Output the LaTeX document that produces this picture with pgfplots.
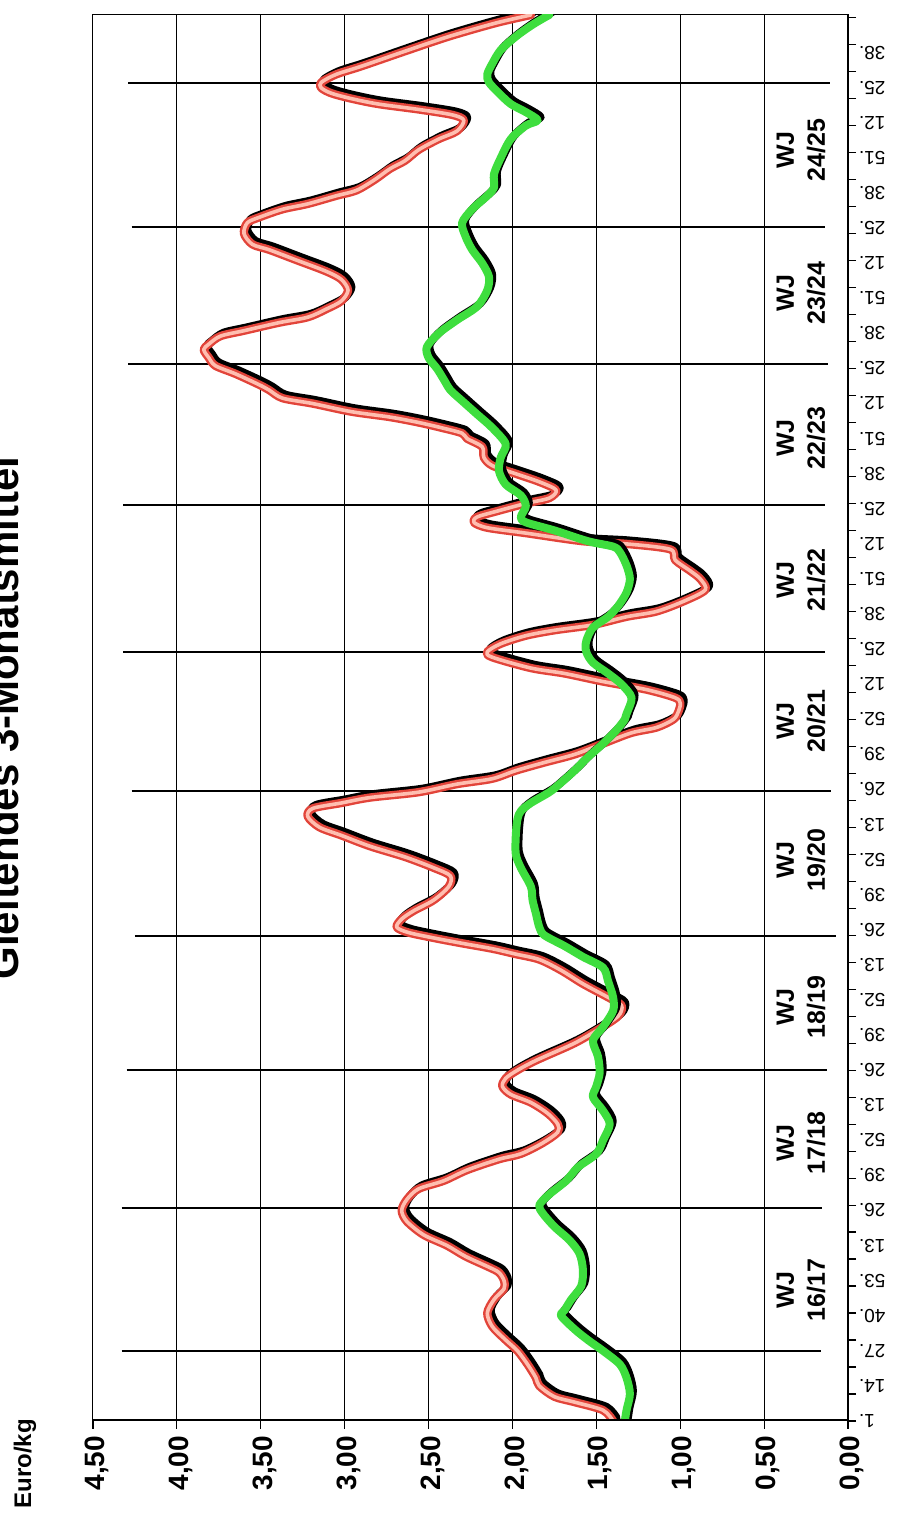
\documentclass[border=0pt]{standalone}
\usepackage{fontspec}
\setmainfont{Liberation Sans}
\usepackage{pgfplots}
\usepackage{pgfplotstable}
\pgfplotsset{compat=1.18}
\definecolor{redb}{RGB}{226,68,58}
\definecolor{pinkf}{RGB}{255,190,176}
\definecolor{grn}{RGB}{62,222,62}

\pgfplotstableread{
t v
1 1.40
5 1.46
8 1.63
10 1.75
14 1.84
17 1.86
22 1.91
27 1.97
31 2.04
36 2.12
41 2.15
46 2.11
50 2.05
53 2.05
56 2.08
58 2.14
62 2.28
66 2.39
70 2.53
75 2.63
79 2.66
83 2.63
87 2.56
90 2.41
94 2.27
98 2.08
100 1.95
104 1.82
108 1.73
111 1.73
115 1.79
119 1.89
122 2.01
125 2.06
128 2.04
131 1.97
134 1.88
136 1.81
141 1.63
146 1.49
151 1.37
155 1.35
158 1.43
163 1.58
168 1.71
172 1.84
174 1.98
176 2.12
178 2.30
180 2.47
182 2.62
184 2.69
187 2.66
190 2.59
194 2.47
199 2.38
203 2.37
206 2.47
210 2.64
214 2.85
218 3.02
221 3.15
225 3.22
228 3.19
230 3.02
232 2.85
234 2.56
237 2.33
239 2.12
242 1.98
245 1.81
248 1.63
252 1.46
256 1.29
258 1.14
261 1.04
264 1.01
267 1.00
269 1.03
272 1.20
275 1.46
278 1.69
280 1.89
284 2.12
286 2.15
289 2.07
292 1.92
294 1.75
296 1.52
299 1.32
301 1.14
305 0.97
309 0.85
313 0.88
316 0.94
320 1.03
324 1.06
326 1.32
327 1.58
330 1.92
332 2.15
334 2.23
336 2.21
338 2.10
341 1.92
343 1.78
346 1.74
349 1.84
352 1.98
355 2.12
358 2.17
362 2.18
365 2.27
367 2.30
369 2.42
371 2.56
373 2.73
375 2.96
378 3.19
380 3.37
383 3.45
385 3.51
389 3.65
392 3.77
395 3.81
398 3.84
400 3.81
403 3.74
405 3.60
408 3.39
410 3.22
413 3.11
416 3.02
420 2.98
424 3.02
427 3.11
431 3.28
435 3.45
437 3.55
441 3.60
445 3.58
447 3.51
450 3.37
452 3.22
455 3.05
457 2.93
461 2.82
465 2.73
468 2.64
472 2.56
476 2.44
479 2.33
483 2.29
485 2.36
487 2.56
489 2.80
491 2.96
493 3.08
495 3.14
497 3.14
500 3.05
503 2.90
509 2.62
514 2.38
519 2.10
522 1.89
}\redtab

\pgfplotstableread{
t v
1 1.33
5 1.32
11 1.30
17 1.32
22 1.36
27 1.46
31 1.55
35 1.63
40 1.71
42 1.69
46 1.65
51 1.59
57 1.58
63 1.60
68 1.66
73 1.75
78 1.82
81 1.84
85 1.78
90 1.68
95 1.61
100 1.50
105 1.46
111 1.42
116 1.46
121 1.52
125 1.50
130 1.48
136 1.49
142 1.52
147 1.46
153 1.40
158 1.40
164 1.43
169 1.46
173 1.58
177 1.69
181 1.81
184 1.84
189 1.86
194 1.88
199 1.89
206 1.95
211 1.98
218 1.98
224 1.97
227 1.95
230 1.89
234 1.78
237 1.72
242 1.63
247 1.55
252 1.46
257 1.38
261 1.33
263 1.32
269 1.29
274 1.35
278 1.43
282 1.52
286 1.56
290 1.56
295 1.52
299 1.43
303 1.37
308 1.32
313 1.30
318 1.32
323 1.36
325 1.40
327 1.55
331 1.75
334 1.92
336 1.95
340 1.92
344 1.95
348 2.04
353 2.08
358 2.07
363 2.04
369 2.12
374 2.21
379 2.30
383 2.37
387 2.41
391 2.45
395 2.50
399 2.51
404 2.44
409 2.33
414 2.21
420 2.15
425 2.14
430 2.18
435 2.24
440 2.28
445 2.30
450 2.24
455 2.15
458 2.11
463 2.11
469 2.07
476 2.01
481 1.92
483 1.85
486 1.92
489 2.01
493 2.08
497 2.14
500 2.15
504 2.12
509 2.07
514 1.98
518 1.89
521 1.81
522 1.78
}\grntab

\begin{document}
\begin{tikzpicture}
\path[use as bounding box] (0,0) rectangle (450.5pt,756.5pt);
\node[rotate=90, anchor=base, font=\bfseries\fontsize{21}{25}\selectfont] at (9pt,397.5pt) {Gleitendes 3-Monatsmittel};
\node[rotate=90, font=\bfseries\fontsize{12}{14}\selectfont] at (12.5pt,24.5pt) {Euro/kg};
\begin{axis}[
  at={(46.5pt,46pt)}, anchor=south west,
  width=377.5pt, height=703pt, scale only axis,
  xmin=0, xmax=4.5, ymin=1, ymax=522,
  x dir=reverse,
  axis line style={line width=0.5pt, black},
  xtick={0,0.5,1,1.5,2,2.5,3,3.5,4,4.5},
  xticklabels={{0,00},{0,50},{1,00},{1,50},{2,00},{2,50},{3,00},{3,50},{4,00},{4,50}},
  xtick pos=left,
  ytick pos=right,
  tick align=outside,
  major tick length=4pt,
  minor tick length=4pt,
  tick style={black, line width=0.6pt},
  major y tick style={draw=none},
  minor y tick style={black, line width=0.6pt},
  xmajorgrids,
  grid style={line width=0.5pt, black},
  xticklabel style={rotate=90, anchor=east, yshift=-2pt, font=\bfseries\fontsize{14}{16}\selectfont},
  ytick={1,14,...,508},
  minor ytick={1,11,...,521},
  yticklabels={1.,14.,27.,40.,53.,13.,26.,39.,52.,13.,26.,39.,52.,13.,26.,39.,52.,13.,26.,39.,52.,12.,25.,38.,51.,12.,25.,38.,51.,12.,25.,38.,51.,12.,25.,38.,51.,12.,25.,38.},
  yticklabel pos=right,
  yticklabel style={rotate=180, anchor=east, xshift=2pt, font=\fontsize{9.5}{11}\selectfont},
]
% WJ separator lines
\draw[line width=0.85pt] (axis cs:4.33,26.9) -- (axis cs:0.16,26.9);
\draw[line width=0.85pt] (axis cs:4.33,79.8) -- (axis cs:0.155,79.8);
\draw[line width=0.85pt] (axis cs:4.30,131.0) -- (axis cs:0.125,131.0);
\draw[line width=0.85pt] (axis cs:4.25,180.8) -- (axis cs:0.07,180.8);
\draw[line width=0.85pt] (axis cs:4.27,234.4) -- (axis cs:0.10,234.4);
\draw[line width=0.85pt] (axis cs:4.32,286.0) -- (axis cs:0.14,286.0);
\draw[line width=0.85pt] (axis cs:4.32,340.4) -- (axis cs:0.14,340.4);
\draw[line width=0.85pt] (axis cs:4.29,392.6) -- (axis cs:0.12,392.6);
\draw[line width=0.85pt] (axis cs:4.27,443.4) -- (axis cs:0.14,443.4);
\draw[line width=0.85pt] (axis cs:4.29,496.9) -- (axis cs:0.11,496.9);
% red series with shadow
\addplot[smooth, line width=4.2pt, black, line cap=round, line join=round, xshift=1.6pt, yshift=1.6pt] table[x=v, y=t] {\redtab};
\addplot[smooth, line width=4.2pt, redb, line cap=round, line join=round] table[x=v, y=t] {\redtab};
\addplot[smooth, line width=1.8pt, pinkf, line cap=round, line join=round] table[x=v, y=t] {\redtab};
% green series with shadow
\addplot[smooth, line width=4pt, black, line cap=round, line join=round, xshift=1.5pt, yshift=1.5pt] table[x=v, y=t] {\grntab};
\addplot[smooth, line width=4pt, grn, line cap=round, line join=round] table[x=v, y=t] {\grntab};
% axis lines
\draw[line width=1.5pt] (axis cs:0,1) -- (axis cs:4.5,1);
\draw[line width=1pt] (axis cs:0,1) -- (axis cs:0,522);
% WJ labels
\begin{scope}[every node/.style={rotate=90, align=center, font=\bfseries\fontsize{12.5}{15.5}\selectfont}]
\node at (axis cs:0.28,49.5) {WJ\\16/17};
\node at (axis cs:0.28,104) {WJ\\17/18};
\node at (axis cs:0.28,154.4) {WJ\\18/19};
\node at (axis cs:0.28,208.9) {WJ\\19/20};
\node at (axis cs:0.28,260.4) {WJ\\20/21};
\node at (axis cs:0.28,312.6) {WJ\\21/22};
\node at (axis cs:0.28,365.2) {WJ\\22/23};
\node at (axis cs:0.28,418.9) {WJ\\23/24};
\node at (axis cs:0.28,471.9) {WJ\\24/25};
\end{scope}
\end{axis}
\end{tikzpicture}
\end{document}
